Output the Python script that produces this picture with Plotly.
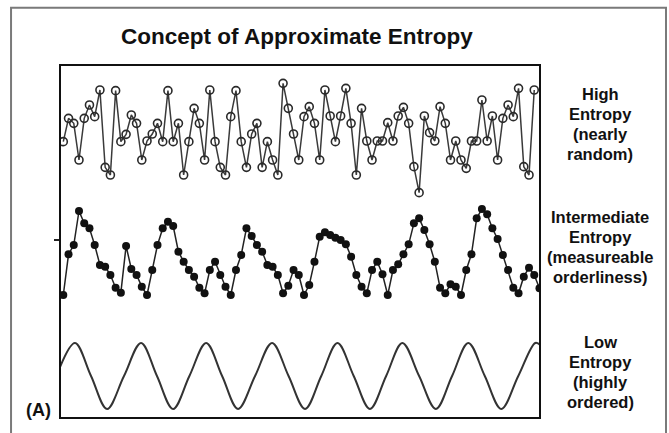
import plotly.graph_objects as go

# ---------------- data ----------------
high_entropy = [18.5, 25.5, 24, 13, 25.5, 29.5, 26, 34, 10.8, 8.5,
                33.8, 18.5, 20.7, 26.5, 24, 13, 18.7, 20.8, 24, 18.5,
                33.8, 18.5, 24, 8.5, 18.5, 28.5, 24, 13, 34, 18.5,
                10.8, 8.5, 26, 33.8, 18.5, 10.8, 20.8, 24, 10.8, 18.5,
                13, 8.5, 36, 28.5, 20.8, 13, 26, 29, 24, 13,
                34, 26.2, 18.5, 26.2, 34.5, 24, 8.5, 28.5, 18.7, 13,
                18.7, 18.7, 24.2, 18.7, 26.2, 28.8, 24, 11, 3.2, 26.2,
                21.2, 18.7, 29, 24, 13, 18.7, 13, 10.5, 18.7, 18.7,
                31, 18.7, 26.2, 13, 25.5, 29.5, 26, 34.5, 11, 8.5, 34]

intermediate_entropy = [10, 22.2, 25, 35.2, 31.5, 30, 25, 19, 18.5, 16,
                        12.2, 10.7, 24.7, 17.8, 16, 12.5, 10, 17.5, 25, 30,
                        32, 30.7, 23, 20, 17.5, 15.5, 12.2, 10.5, 17.5, 20,
                        16, 12.5, 10, 17.5, 22, 30, 27.7, 25, 23, 19,
                        18.5, 16, 10.5, 12.8, 17.5, 16, 10, 13, 20, 27.5,
                        28.8, 28, 27.2, 26.5, 25.2, 21.5, 16, 12.5, 10.5, 17.5,
                        20, 16.2, 10, 17.5, 19.2, 22.2, 25.2, 31.5, 33, 29.5,
                        25.2, 20, 12.2, 10.5, 13.2, 12.5, 10, 17.5, 22.2, 33,
                        35.8, 34.2, 30, 26.8, 22, 17.5, 12.2, 10.5, 15.5, 18.2,
                        16, 12]

# low entropy: positions of the curve's start, crossings, peaks and troughs
low_x = [-0.63, 2.24, 5.3, 8.36, 11.6, 14.86, 17.9, 20.98, 24.1, 27.3,
         30.35, 33.4, 36.65, 39.9, 43.05, 46.2, 49.3, 52.4, 55.5, 58.6,
         61.7, 64.8, 68.0, 71.2, 74.3, 77.4, 80.55, 83.7, 86.95, 90.2, 91.15]
low_y = [0.27, 1, 0, -1, 0, 1, 0, -1, 0, 1,
         0, -1, 0, 1, 0, -1, 0, 1, 0, -1,
         0, 1, 0, -1, 0, 1, 0, -1, 0, 1, 0.94]

title_text = "Concept of Approximate Entropy"
labels = [["High", "Entropy", "(nearly", "random)"],
          ["Intermediate", "Entropy", "(measureable", "orderliness)"],
          ["Low", "Entropy", "(highly", "ordered)"]]
panel_label = "(A)"

FONT = "Liberation Sans, Arial, sans-serif"

fig = go.Figure()

fig.add_trace(go.Scatter(
    x=list(range(len(high_entropy))), y=high_entropy, yaxis="y",
    mode="lines+markers",
    line=dict(color="#3a3a3a", width=1.5),
    marker=dict(symbol="circle-open", size=8, color="#2a2a2a",
                line=dict(width=1.6, color="#2a2a2a")),
    showlegend=False, hoverinfo="skip"))

fig.add_trace(go.Scatter(
    x=list(range(len(intermediate_entropy))), y=intermediate_entropy, yaxis="y2",
    mode="lines+markers",
    line=dict(color="#222222", width=1.5),
    marker=dict(symbol="circle", size=8, color="#111111"),
    showlegend=False, hoverinfo="skip"))

fig.add_trace(go.Scatter(
    x=low_x, y=low_y, yaxis="y3",
    mode="lines", line=dict(color="#333333", width=2, shape="spline", smoothing=1.0),
    showlegend=False, hoverinfo="skip"))

hidden = dict(showgrid=False, zeroline=False, showticklabels=False,
              showline=False, ticks="")

fig.update_layout(
    width=669, height=433,
    margin=dict(l=60, r=129, t=65, b=15),
    paper_bgcolor="white", plot_bgcolor="white",
    xaxis=dict(range=[-0.63, 91.1], **hidden),
    yaxis=dict(range=[-64.4, 41.5], domain=[0, 1], **hidden),
    yaxis2=dict(range=[-26.9, 79], overlaying="y", showgrid=False, zeroline=False,
                showticklabels=False, showline=False, ticks="outside",
                tickvals=[26.5], ticklen=5, tickwidth=1.5, tickcolor="#222"),
    yaxis3=dict(range=[-1.273, 9.42], overlaying="y", **hidden),
    font=dict(family=FONT, color="#111"),
)

# plot box and outer frame
fig.add_shape(type="rect", xref="paper", yref="paper", x0=0, x1=1, y0=0, y1=1,
              line=dict(color="#111", width=2))
fig.add_shape(type="rect", xref="paper", yref="paper",
              x0=-0.102, x1=1.2625, y0=-0.062, y1=1.162,
              line=dict(color="#7a7a7a", width=2), layer="below")

def px_to_paper_x(px):
    return (px - 60) / 480.0

def px_to_paper_y(py):
    return (418 - py) / 353.0

fig.add_annotation(text="<b>" + title_text + "</b>", xref="paper", yref="paper",
                   x=px_to_paper_x(297), y=px_to_paper_y(36), showarrow=False,
                   xanchor="center", yanchor="middle",
                   font=dict(size=22.5, family=FONT, color="#111"))

block_first_line = [94, 217, 342]
for lines, y0 in zip(labels, block_first_line):
    for k, line in enumerate(lines):
        fig.add_annotation(text="<b>" + line + "</b>", xref="paper", yref="paper",
                           x=px_to_paper_x(600), y=px_to_paper_y(y0 + 20 * k),
                           showarrow=False, xanchor="center", yanchor="middle",
                           font=dict(size=16.5, family=FONT, color="#111"))

fig.add_annotation(text="<b>" + panel_label + "</b>", xref="paper", yref="paper",
                   x=px_to_paper_x(38), y=px_to_paper_y(410), showarrow=False,
                   xanchor="center", yanchor="middle",
                   font=dict(size=18, family=FONT, color="#111"))

fig.write_html("out.html", config={"displayModeBar": False},
               post_script="document.body.style.margin='0';")
